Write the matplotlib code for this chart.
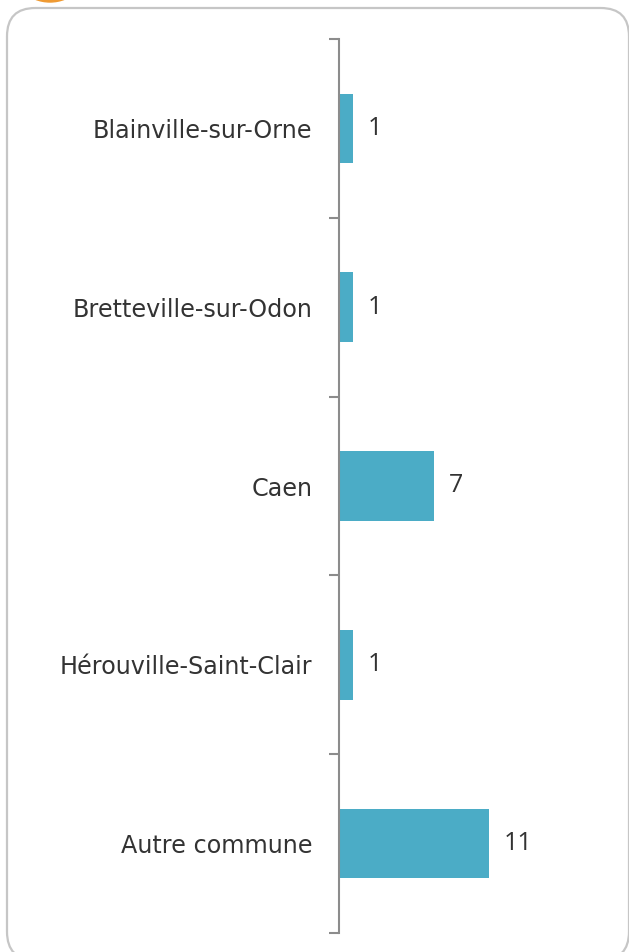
import matplotlib.pyplot as plt
from matplotlib.patches import FancyBboxPatch, Circle

communes = ["Blainville-sur-Orne", "Bretteville-sur-Odon", "Caen",
            "Hérouville-Saint-Clair", "Autre commune"]
effectifs = [1, 1, 7, 1, 11]

W, H = 629, 952
fig = plt.figure(figsize=(W / 100, H / 100), dpi=100)

# cadre arrondi + pastille orange (coordonnees en pixels)
def px(x, y):
    return x / W, 1 - y / H

frame = FancyBboxPatch(px(7, 960), (629 - 7) / W, (960 - 8) / H,
                       boxstyle="round,pad=0,rounding_size=0.045",
                       mutation_aspect=W / H,
                       transform=fig.transFigure, fill=False,
                       ec="#c6c6c6", lw=1.6, clip_on=False)
fig.patches.append(frame)
badge = Circle((50, H + 38), 40, transform=None, color="#ef9a32")
fig.patches.append(badge)

ax = fig.add_axes([339 / W, 1 - 933 / H, 272 / W, (933 - 39) / H])
ypos = list(range(len(communes)))
ax.barh(ypos, effectifs, height=0.39, color="#4bacc6")
ax.set_ylim(len(communes) - 0.5, -0.5)
ax.set_xlim(0, 20)

for s in ["top", "right", "bottom"]:
    ax.spines[s].set_visible(False)
ax.spines["left"].set_color("#8c8c8c")
ax.spines["left"].set_linewidth(1.5)
ax.set_xticks([])

ax.set_yticks(ypos)
ax.set_yticklabels(communes, fontsize=17.2, color="#333333", family="DejaVu Sans")
ax.tick_params(axis="y", which="major", length=0, pad=19)
ax.set_yticks([i - 0.5 for i in range(len(communes) + 1)], minor=True)
ax.tick_params(axis="y", which="minor", length=7, width=1.5, color="#8c8c8c")

for y, v in zip(ypos, effectifs):
    ax.annotate(str(v), (v, y), xytext=(15, 0), textcoords="offset pixels",
                va="center", ha="left", fontsize=18, color="#333333",
                family="Open Sans")

fig.savefig("out.png", dpi=100)
